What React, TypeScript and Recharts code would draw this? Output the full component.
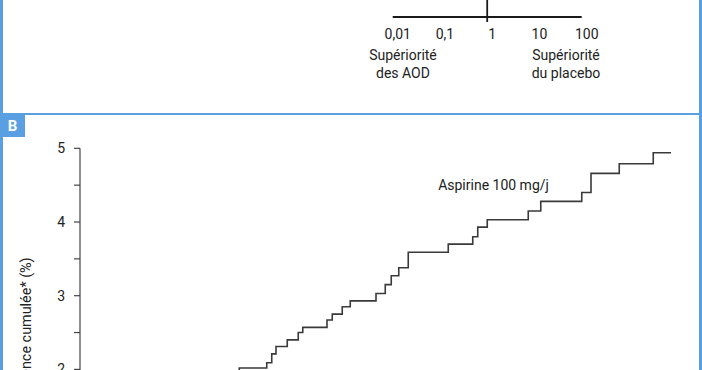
import React from 'react';
import { ComposedChart, LineChart, Line, XAxis, YAxis, ReferenceLine, Label } from 'recharts';

// Panel A (forest plot axis, partially visible)
const forestTicks = [0.01, 0.1, 1, 10, 100];
const forestTickLabels = ['0,01', '0,1', '1', '10', '100'];
const forestLeftLabel = ['Supériorité', 'des AOD'];
const forestRightLabel = ['Supériorité', 'du placebo'];

// Panel B (cumulative incidence, aspirin arm)
const months = [
  5.9, 6.37, 7.47, 7.67, 7.84, 8.29, 8.73, 8.91, 9.88, 10.09, 10.49, 10.81, 11.84, 12.21,
  12.45, 12.75, 13.13, 14.73, 15.71, 15.91, 16.29, 17.93, 18.43, 20.07, 20.44, 21.57, 22.93, 23.64,
];
const aspirinIncidence = [
  1.93, 2.02, 2.09, 2.21, 2.31, 2.4, 2.5, 2.57, 2.67, 2.75, 2.85, 2.93, 3.03, 3.15,
  3.27, 3.38, 3.59, 3.7, 3.8, 3.93, 4.03, 4.15, 4.28, 4.4, 4.66, 4.79, 4.94, 4.94,
];
const yTicks = [0, 0.5, 1, 1.5, 2, 2.5, 3, 3.5, 4, 4.5, 5];
const seriesName = 'Aspirine 100 mg/j';
const yAxisTitle = 'Incidence cumulée* (%)';
const panelLabel = 'B';

const FONT = 'Roboto, "DejaVu Sans", sans-serif';
const BLUE = '#5b9fe3';
const INK = '#222';

const forestData = forestTicks.map((x) => ({ x, base: 0 }));
const curveData = months.map((m, i) => ({ m, v: aspirinIncidence[i] }));

const ForestTick = (props: any) => {
  const { x, y, payload } = props;
  const idx = forestTicks.indexOf(payload.value);
  return (
    <text x={x + 5} y={y} dy={9} textAnchor="middle" fontSize={14} fill={INK} fontFamily={FONT}>
      {forestTickLabels[idx]}
    </text>
  );
};

const YTitle = (props: any) => {
  const vb = props.viewBox || { x: 0, y: 0, width: 0, height: 0 };
  const cx = vb.x + 27;
  const cy = vb.y + vb.height / 2;
  return (
    <text
      x={cx}
      y={cy}
      transform={`rotate(-90, ${cx}, ${cy})`}
      textAnchor="middle"
      dominantBaseline="central"
      fontSize={14.4}
      fill={INK}
      fontFamily={FONT}
    >
      {yAxisTitle}
    </text>
  );
};

export default function App() {
  return (
    <div
      style={{
        position: 'absolute',
        left: 0,
        top: 0,
        width: 702,
        height: 370,
        overflow: 'hidden',
        background: '#fff',
        fontFamily: FONT,
      }}
    >
      {/* Panel A forest axis */}
      <div style={{ position: 'absolute', left: 0, top: 0 }}>
        <ComposedChart
          width={702}
          height={110}
          data={forestData}
          margin={{ top: 0, right: 120.3, bottom: 58, left: 392.7 }}
        >
          <XAxis
            dataKey="x"
            type="number"
            scale="log"
            domain={[0.01, 100]}
            ticks={forestTicks}
            interval={0}
            axisLine={false}
            tickLine={false}
            height={30}
            tick={<ForestTick />}
            allowDataOverflow
          />
          <YAxis type="number" domain={[0, 22]} hide allowDataOverflow />
          <Line
            dataKey="base"
            stroke="none"
            dot={false}
            activeDot={false}
            isAnimationActive={false}
            legendType="none"
          />
          <ReferenceLine y={5} stroke="#1a1a1a" strokeWidth={1.8} ifOverflow="visible" />
          <ReferenceLine x={1} stroke="#1a1a1a" strokeWidth={1.8} ifOverflow="visible" />
        </ComposedChart>
      </div>

      {/* Panel B */}
      <div style={{ position: 'absolute', left: 0, top: 0 }}>
        <LineChart
          width={702}
          height={560}
          data={curveData}
          margin={{ top: 148.3, right: 22, bottom: 43.2, left: 0 }}
        >
          <XAxis dataKey="m" type="number" domain={[0, 24]} hide />
          <YAxis
            type="number"
            domain={[0, 5]}
            ticks={yTicks}
            interval={0}
            width={80}
            tickSize={6}
            tickMargin={9}
            axisLine={{ stroke: '#444', strokeWidth: 1.2 }}
            tickLine={{ stroke: '#444', strokeWidth: 1.2 }}
            tick={{ fontSize: 14, fill: INK, fontFamily: FONT }}
            tickFormatter={(v: number) => (Number.isInteger(v) ? String(v) : '')}
          >
            <Label content={<YTitle />} />
          </YAxis>
          <Line
            type="stepAfter"
            dataKey="v"
            name={seriesName}
            stroke="#3a3a3a"
            strokeWidth={1.6}
            dot={false}
            isAnimationActive={false}
          />
        </LineChart>
      </div>

      {/* Text annotations */}
      <svg
        width={702}
        height={370}
        style={{ position: 'absolute', left: 0, top: 0, pointerEvents: 'none' }}
      >
        <g fontFamily={FONT} fontSize={14} fill={INK} textAnchor="middle">
          <text x={403} y={60}>{forestLeftLabel[0]}</text>
          <text x={403} y={77.5}>{forestLeftLabel[1]}</text>
          <text x={566} y={60}>{forestRightLabel[0]}</text>
          <text x={566} y={77.5}>{forestRightLabel[1]}</text>
          <text x={493.5} y={190}>{seriesName}</text>
        </g>
      </svg>

      {/* Panel frames */}
      <div style={{ position: 'absolute', left: 0, top: 0, width: 3, height: 370, background: BLUE }} />
      <div style={{ position: 'absolute', left: 699, top: 0, width: 3, height: 370, background: BLUE }} />
      <div style={{ position: 'absolute', left: 0, top: 113, width: 702, height: 2, background: BLUE }} />
      <div
        style={{
          position: 'absolute',
          left: 0,
          top: 115,
          width: 25,
          height: 22,
          background: BLUE,
          color: '#fff',
          fontWeight: 700,
          fontSize: 15,
          lineHeight: '22px',
          textAlign: 'center',
          fontFamily: FONT,
        }}
      >
        {panelLabel}
      </div>
    </div>
  );
}
